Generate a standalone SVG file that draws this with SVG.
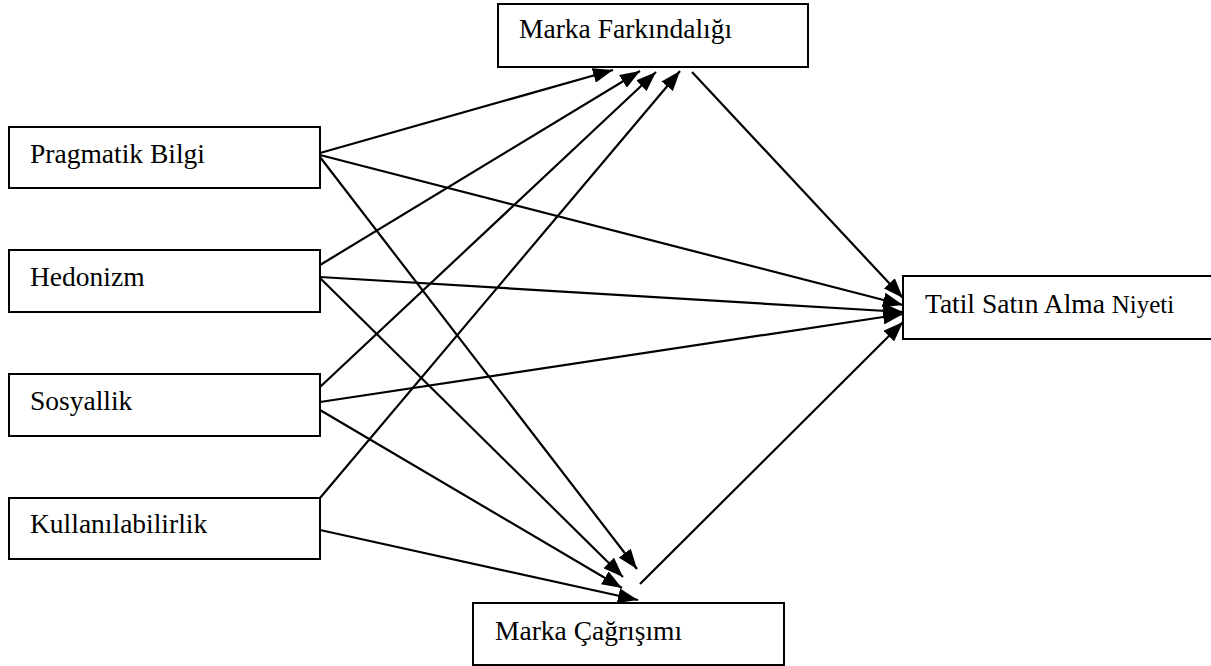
<svg xmlns="http://www.w3.org/2000/svg" width="1211" height="666" viewBox="0 0 1211 666">
<defs>
<style>
.box{fill:#fff;stroke:#000;stroke-width:2}
.lbl{font-family:"Liberation Serif","Times New Roman",serif;font-size:27.5px;fill:#000}
.edge{stroke:#000;stroke-width:2.2;fill:none;marker-end:url(#ah)}
</style>
<marker id="ah" markerUnits="userSpaceOnUse" markerWidth="21" markerHeight="15" refX="20" refY="7.5" orient="auto">
<path d="M0,0 L20,7.5 L0,15 z" fill="#000"/>
</marker>
</defs>
<rect width="1211" height="666" fill="#fff"/>
<g id="nodes">
<g id="pragmatik"><rect class="box" x="9" y="127" width="311" height="61"/><text class="lbl" x="30" y="163">Pragmatik Bilgi</text></g>
<g id="hedonizm"><rect class="box" x="9" y="250" width="311" height="62"/><text class="lbl" x="30" y="286">Hedonizm</text></g>
<g id="sosyallik"><rect class="box" x="9" y="374" width="311" height="62"/><text class="lbl" x="30" y="410">Sosyallik</text></g>
<g id="kullanilabilirlik"><rect class="box" x="9" y="498" width="311" height="61"/><text class="lbl" x="30" y="533">Kullanılabilirlik</text></g>
<g id="marka-farkindaligi"><rect class="box" x="498" y="4" width="310" height="63"/><text class="lbl" x="519" y="38">Marka Farkındalığı</text></g>
<g id="marka-cagrisimi"><rect class="box" x="473" y="603" width="311" height="62"/><text class="lbl" x="495" y="640">Marka Çağrışımı</text></g>
<g id="tatil"><rect class="box" x="903" y="276" width="315" height="63"/><text class="lbl" x="925" y="313">Tatil Satın Alma <tspan font-size="25">Niyeti</tspan></text></g>
</g>
<g id="connectors">
<line class="edge" x1="320" y1="153" x2="613" y2="70"/>
<line class="edge" x1="320" y1="265" x2="640" y2="71"/>
<line class="edge" x1="320" y1="387" x2="656" y2="72"/>
<line class="edge" x1="320" y1="498" x2="680" y2="71"/>
<line class="edge" x1="320" y1="155" x2="903" y2="305"/>
<line class="edge" x1="320" y1="277" x2="903" y2="312"/>
<line class="edge" x1="320" y1="402" x2="903" y2="314"/>
<line class="edge" x1="692" y1="72" x2="903" y2="298"/>
<line class="edge" x1="640" y1="584" x2="903" y2="322"/>
<line class="edge" x1="320" y1="157" x2="637" y2="569"/>
<line class="edge" x1="320" y1="278" x2="623" y2="577"/>
<line class="edge" x1="320" y1="410" x2="622" y2="588"/>
<line class="edge" x1="320" y1="530" x2="638" y2="600"/>
</g>
</svg>
